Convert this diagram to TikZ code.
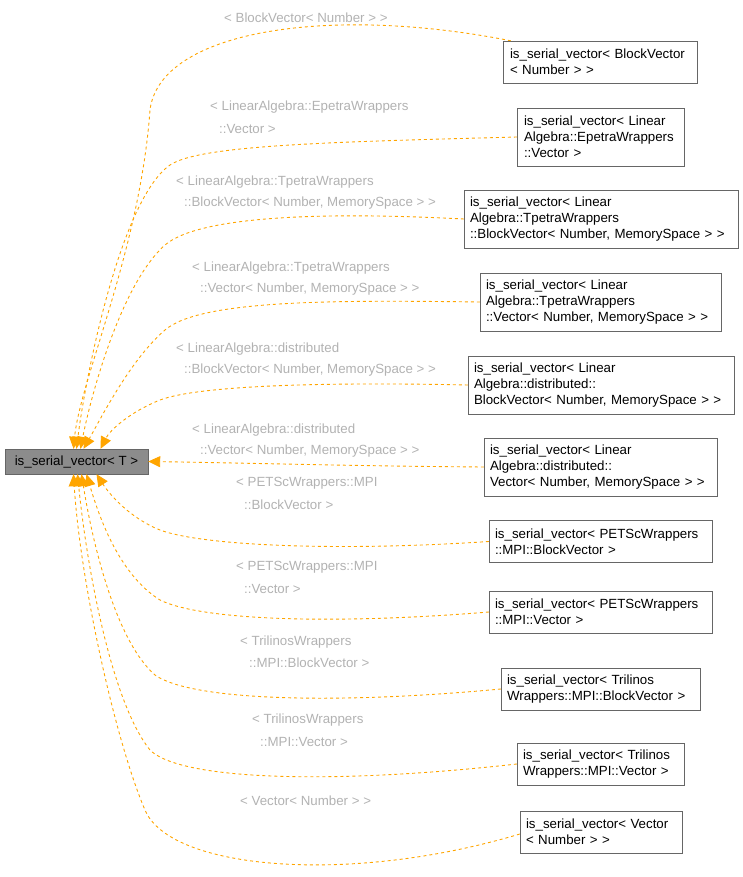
\documentclass[tikz,border=0pt]{standalone}
\usepackage{fontspec}
\setmainfont{Liberation Sans}
\usetikzlibrary{arrows.meta}
\definecolor{edgeorange}{RGB}{255,165,0}
\tikzset{
  cls/.style={draw=black!60, fill=white, align=left, inner sep=0pt, font=\fontsize{13.3}{16}\selectfont, anchor=center},
  inh/.style={draw=edgeorange, dashed, line width=0.9pt, -{Triangle[width=11pt,length=12pt]}},
  lbl/.style={anchor=west, text=black!30, font=\fontsize{13.3}{16}\selectfont, inner sep=0pt}
}
\begin{document}
\begin{tikzpicture}[x=1pt,y=-1pt]
  \useasboundingbox (0,0) rectangle (743,877);

  % base class
  \node[cls, fill=black!45, minimum width=143pt, minimum height=25pt, align=center] (base) at (76.5,461.5) {is\_serial\_vector< T >};

  % derived classes
  \node[cls, minimum width=194pt, minimum height=42pt, text width=180pt] (bv) at (600,62) {is\_serial\_vector< BlockVector\\< Number > >};
  \node[cls, minimum width=167pt, minimum height=58pt, text width=153pt] (ep) at (600.5,137) {is\_serial\_vector< Linear\\Algebra::EpetraWrappers\\::Vector >};
  \node[cls, minimum width=274pt, minimum height=58pt, text width=262pt] (tpbv) at (601,219) {is\_serial\_vector< Linear\\Algebra::TpetraWrappers\\::BlockVector< Number, MemorySpace > >};
  \node[cls, minimum width=241pt, minimum height=58pt, text width=229pt] (tpv) at (600.5,302) {is\_serial\_vector< Linear\\Algebra::TpetraWrappers\\::Vector< Number, MemorySpace > >};
  \node[cls, minimum width=266pt, minimum height=58pt, text width=254pt] (dbv) at (601,385) {is\_serial\_vector< Linear\\Algebra::distributed::\\BlockVector< Number, MemorySpace > >};
  \node[cls, minimum width=233pt, minimum height=58pt, text width=221pt] (dv) at (600.5,467) {is\_serial\_vector< Linear\\Algebra::distributed::\\Vector< Number, MemorySpace > >};
  \node[cls, minimum width=223pt, minimum height=42pt, text width=211pt] (pbv) at (600.5,541.5) {is\_serial\_vector< PETScWrappers\\::MPI::BlockVector >};
  \node[cls, minimum width=223pt, minimum height=42pt, text width=211pt] (pv) at (600.5,612) {is\_serial\_vector< PETScWrappers\\::MPI::Vector >};
  \node[cls, minimum width=199pt, minimum height=42pt, text width=187pt] (tbv) at (600.5,689) {is\_serial\_vector< Trilinos\\Wrappers::MPI::BlockVector >};
  \node[cls, minimum width=167pt, minimum height=42pt, text width=155pt] (tv) at (600.5,764) {is\_serial\_vector< Trilinos\\Wrappers::MPI::Vector >};
  \node[cls, minimum width=162pt, minimum height=42pt, text width=150pt] (vec) at (601,832) {is\_serial\_vector< Vector\\< Number > >};

  % edge labels
  \node[lbl] (l1) at (224,18) {< BlockVector< Number > >};
  \node[lbl] (l2a) at (210,107) {< LinearAlgebra::EpetraWrappers};
  \node[lbl] (l2b) at (219,129) {::Vector >};
  \node[lbl] (l3a) at (176,182) {< LinearAlgebra::TpetraWrappers};
  \node[lbl] (l3b) at (184,203) {::BlockVector< Number, MemorySpace > >};
  \node[lbl] (l4a) at (192,268) {< LinearAlgebra::TpetraWrappers};
  \node[lbl] (l4b) at (200,289) {::Vector< Number, MemorySpace > >};
  \node[lbl] (l5a) at (176,349) {< LinearAlgebra::distributed};
  \node[lbl] (l5b) at (184,370) {::BlockVector< Number, MemorySpace > >};
  \node[lbl] (l6a) at (192,430) {< LinearAlgebra::distributed};
  \node[lbl] (l6b) at (200,451) {::Vector< Number, MemorySpace > >};
  \node[lbl] (l7a) at (236,483) {< PETScWrappers::MPI};
  \node[lbl] (l7b) at (244,505) {::BlockVector >};
  \node[lbl] (l8a) at (236,567) {< PETScWrappers::MPI};
  \node[lbl] (l8b) at (244,589) {::Vector >};
  \node[lbl] (l9a) at (240,642) {< TrilinosWrappers};
  \node[lbl] (l9b) at (249,663) {::MPI::BlockVector >};
  \node[lbl] (l10a) at (252,720) {< TrilinosWrappers};
  \node[lbl] (l10b) at (260,742) {::MPI::Vector >};
  \node[lbl] (l11) at (240,801) {< Vector< Number > >};

  % inheritance edges
  \draw[inh] ([xshift=8pt]bv.north west) .. controls (330,5) and (160,30) .. (150,110) .. controls (140,250) and (80,380) .. ([xshift=-3pt]base.north);
  \draw[inh] (ep.west) .. controls (330,142) and (200,145) .. (170,165) .. controls (120,200) and (85,380) .. (base.north);
  \draw[inh] (tpbv.west) .. controls (330,212) and (200,215) .. (165,245) .. controls (120,285) and (90,400) .. ([xshift=4pt]base.north);
  \draw[inh] (tpv.west) .. controls (330,300) and (200,300) .. (165,330) .. controls (130,360) and (100,420) .. ([xshift=7pt]base.north);
  \draw[inh] (dbv.west) .. controls (330,382) and (200,385) .. (160,400) .. controls (130,412) and (110,430) .. ([xshift=24pt]base.north);
  \draw[inh] (dv.west) .. controls (350,466) and (250,463) .. (base.east);
  \draw[inh] (pbv.west) .. controls (330,552) and (200,545) .. (160,530) .. controls (130,518) and (110,495) .. ([xshift=20pt]base.south);
  \draw[inh] (pv.west) .. controls (330,625) and (200,620) .. (160,600) .. controls (120,575) and (100,520) .. ([xshift=10pt]base.south);
  \draw[inh] (tbv.west) .. controls (330,705) and (190,700) .. (155,675) .. controls (115,640) and (92,540) .. ([xshift=5pt]base.south);
  \draw[inh] (tv.west) .. controls (330,785) and (180,780) .. (150,750) .. controls (110,700) and (86,560) .. ([xshift=1pt]base.south);
  \draw[inh] ([yshift=-2pt]vec.west) .. controls (350,885) and (170,870) .. (145,810) .. controls (115,740) and (80,580) .. ([xshift=-3pt]base.south);
\end{tikzpicture}
\end{document}
